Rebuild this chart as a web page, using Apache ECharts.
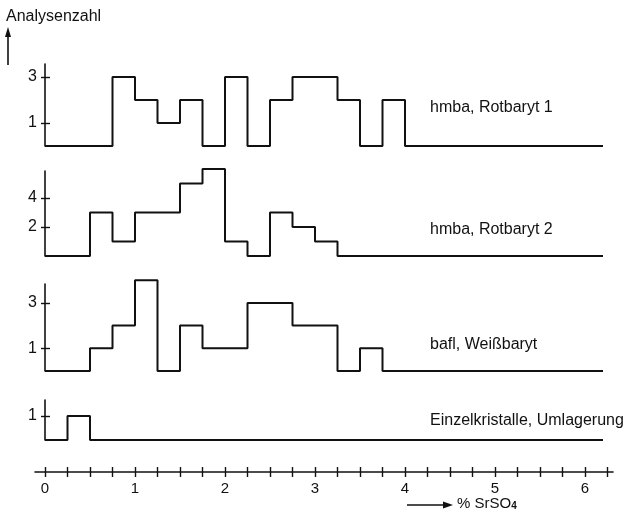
<!DOCTYPE html>
<html><head><meta charset="utf-8">
<script src="https://cdn.jsdelivr.net/npm/echarts@6/dist/echarts.min.js"></script>
<style>html,body{margin:0;padding:0;background:#fff}#c{width:631px;height:514px}</style>
</head><body><div id="c"></div>
<script>
// ---- data ----
const binEdges = [0, 0.25, 0.5, 0.75, 1, 1.25, 1.5, 1.75, 2, 2.25, 2.5, 2.75, 3, 3.25, 3.5, 3.75, 4];
const counts1 = [0, 0, 0, 3, 2, 1, 2, 0, 3, 0, 2, 3, 3, 2, 0, 2];
const counts2 = [0, 0, 3, 1, 3, 3, 5, 6, 1, 0, 3, 2, 1];
const counts3 = [0, 0, 1, 2, 4, 0, 2, 1, 1, 3, 3, 2, 2, 0, 1];
const counts4 = [0, 1];
const baselineEnd = 6.2;
const seriesNames = ['hmba, Rotbaryt 1', 'hmba, Rotbaryt 2', 'bafl, Weißbaryt', 'Einzelkristalle, Umlagerung'];
const yTicks1 = [1, 3];
const yTicks2 = [2, 4];
const yTicks3 = [1, 3];
const yTicks4 = [1];
const xTicks = [0, 0.25, 0.5, 0.75, 1, 1.25, 1.5, 1.75, 2, 2.25, 2.5, 2.75, 3, 3.25, 3.5, 3.75, 4, 4.25, 4.5, 4.75, 5, 5.25, 5.5, 5.75, 6, 6.25];
const xLabels = [0, 1, 2, 3, 4, 5, 6];
const yTitle = 'Analysenzahl';
const xTitle = '% SrSO';

// ---- build ----
const INK = '#111';
const FONT = 'Liberation Sans, Arial, sans-serif';
function stepPoints(counts) {
  const pts = [];
  for (let i = 0; i < counts.length; i++) {
    pts.push([binEdges[i], counts[i]]);
    pts.push([binEdges[i + 1], counts[i]]);
  }
  pts.push([binEdges[counts.length], 0]);
  pts.push([baselineEnd, 0]);
  return pts;
}
const panels = [
  {counts: counts1, ticks: yTicks1, top: 64, height: 82, max: 82 / 23, labelY: 109},
  {counts: counts2, ticks: yTicks2, top: 171, height: 85, max: 85 / 14.5, labelY: 231},
  {counts: counts3, ticks: yTicks3, top: 284, height: 87, max: 87 / 22.7, labelY: 346},
  {counts: counts4, ticks: yTicks4, top: 400, height: 40, max: 40 / 24, labelY: 422}
];
const grid = [], xAxis = [], yAxis = [], series = [], graphic = [];
panels.forEach((p, i) => {
  grid.push({left: 45, right: 28, top: p.top, height: p.height});
  xAxis.push({type: 'value', gridIndex: i, min: 0, max: baselineEnd, show: false});
  // outer ticks + labels
  yAxis.push({type: 'value', gridIndex: i, min: 0, max: p.max, position: 'left',
    splitLine: {show: false},
    axisLine: {show: true, lineStyle: {color: INK, width: 1.6}},
    axisTick: {show: true, length: 4, customValues: p.ticks, lineStyle: {color: INK, width: 1.4}},
    axisLabel: {show: true, customValues: p.ticks, margin: 8, color: INK, fontSize: 16, fontFamily: FONT}
  });
  // inner ticks
  yAxis.push({type: 'value', gridIndex: i, min: 0, max: p.max, position: 'left',
    splitLine: {show: false},
    axisLine: {show: false},
    axisTick: {show: true, inside: true, length: 5, customValues: p.ticks, lineStyle: {color: INK, width: 1.4}},
    axisLabel: {show: false}
  });
  series.push({type: 'line', xAxisIndex: i, yAxisIndex: 2 * i, data: stepPoints(p.counts),
    showSymbol: false, symbol: 'none', silent: true, animation: false, clip: false,
    lineStyle: {color: INK, width: 2}
  });
  graphic.push({type: 'text', left: 430, top: p.labelY - 9,
    style: {text: seriesNames[i], fill: INK, font: '16px ' + FONT}});
});
// bottom shared axis (two grids: outward + inward ticks)
[false, true].forEach((inside, k) => {
  const gi = grid.length;
  grid.push({left: 35, right: 18, top: 440, height: 32});
  xAxis.push({type: 'value', gridIndex: gi, min: -0.111, max: 6.311, position: 'bottom',
    splitLine: {show: false},
    axisLine: {show: !inside, lineStyle: {color: INK, width: 1.6}},
    axisTick: {show: true, inside: inside, length: 5, customValues: xTicks, lineStyle: {color: INK, width: 1.4}},
    axisLabel: {show: !inside, customValues: xLabels, margin: 9, color: INK, fontSize: 15, fontFamily: FONT}
  });
  yAxis.push({type: 'value', gridIndex: gi, show: false, min: 0, max: 1});
});
// y title and arrow
graphic.push({type: 'text', left: 6, top: 9, style: {text: yTitle, fill: INK, font: '16px ' + FONT}});
graphic.push({type: 'line', shape: {x1: 8, y1: 65, x2: 8, y2: 34}, style: {stroke: INK, lineWidth: 1.6}});
graphic.push({type: 'polygon', shape: {points: [[8, 27], [5, 37], [11, 37]]}, style: {fill: INK}});
// x title and arrow
graphic.push({type: 'line', shape: {x1: 407, y1: 505, x2: 446, y2: 505}, style: {stroke: INK, lineWidth: 1.4}});
graphic.push({type: 'polygon', shape: {points: [[453, 505], [443, 501.5], [443, 508.5]]}, style: {fill: INK}});
graphic.push({type: 'text', left: 457, top: 496,
  style: {text: '{a|' + xTitle + '}{b|4}', rich: {a: {fill: INK, font: '15px ' + FONT}, b: {fill: INK, font: 'bold 10px ' + FONT, padding: [6, 0, 0, 0]}}}});

const chart = echarts.init(document.getElementById('c'), null, {renderer: 'canvas'});
chart.setOption({animation: false, backgroundColor: '#fff', grid, xAxis, yAxis, series, graphic});
</script></body></html>
